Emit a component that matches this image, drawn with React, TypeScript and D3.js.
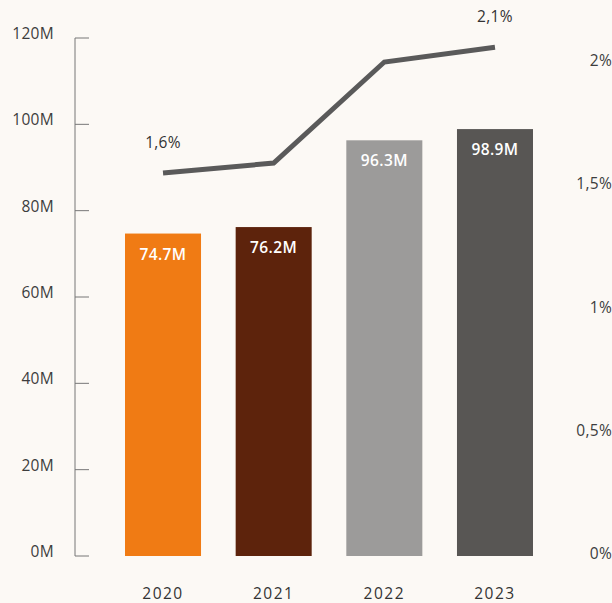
import React from "react";
import * as d3 from "d3";

const years = ["2020", "2021", "2022", "2023"];
const revenue = [74.7, 76.2, 96.3, 98.9];
const revenueLabels = ["74.7M", "76.2M", "96.3M", "98.9M"];
const barColors = ["#f07b14", "#5d230c", "#9c9b9a", "#585654"];
const share = [1.55, 1.59, 2.0, 2.06];
const shareLabels = ["1,6%", "", "", "2,1%"];
const leftTicks = [0, 20, 40, 60, 80, 100, 120];
const rightTicks = [0, 0.5, 1, 1.5, 2];
const rightTickLabels = ["0%", "0,5%", "1%", "1,5%", "2%"];

const W = 612;
const H = 603;
const FONT = "'Open Sans', 'Noto Sans', sans-serif";

export default function App() {
  const x = d3.scaleBand().domain(years).range([125, 533]).paddingInner(0.313).paddingOuter(0);
  const y = d3.scaleLinear().domain([0, 120]).range([556, 38]);
  const yR = d3.scaleLinear().domain([0, 2]).range([555, 62]);
  const line = d3
    .line<number>()
    .x((_, i) => (x(years[i]) as number) + x.bandwidth() / 2)
    .y((d) => yR(d));

  return (
    <svg
      width={W}
      height={H}
      style={{ position: "absolute", left: 0, top: 0, background: "#fcf9f5" }}
      fontFamily={FONT}
    >
      <rect width={W} height={H} fill="#fcf9f5" />
      {/* left axis */}
      <line x1={75} x2={75} y1={y(120)} y2={y(0)} stroke="#777" strokeWidth={1} />
      {leftTicks.map((t) => (
        <g key={t}>
          <line x1={75} x2={89} y1={y(t)} y2={y(t)} stroke="#777" strokeWidth={1} />
          <text x={54} y={y(t) - 3} textAnchor="end" dominantBaseline="middle" fontSize={15.5} letterSpacing={0.3} fill="#3d3d3d">
            {t}M
          </text>
        </g>
      ))}
      {/* right axis labels */}
      {rightTicks.map((t, i) => (
        <text key={t} x={612} y={yR(t)} textAnchor="end" dominantBaseline="middle" fontSize={15.5} letterSpacing={0.3} fill="#3d3d3d">
          {rightTickLabels[i]}
        </text>
      ))}
      {/* bars */}
      {years.map((yr, i) => (
        <g key={yr}>
          <rect
            x={x(yr)}
            y={y(revenue[i])}
            width={x.bandwidth()}
            height={y(0) - y(revenue[i])}
            fill={barColors[i]}
          />
          <text
            x={(x(yr) as number) + x.bandwidth() / 2}
            y={y(revenue[i]) + 22}
            textAnchor="middle"
            dominantBaseline="middle"
            fontSize={15.5}
            fontWeight={600}
            letterSpacing={0.4}
            fill="#fff"
          >
            {revenueLabels[i]}
          </text>
          <text
            x={(x(yr) as number) + x.bandwidth() / 2}
            y={595}
            textAnchor="middle"
            dominantBaseline="middle"
            fontSize={15.5}
            letterSpacing={1.5}
            fill="#333"
          >
            {yr}
          </text>
        </g>
      ))}
      {/* line */}
      <path d={line(share) as string} fill="none" stroke="#5a5a5a" strokeWidth={5} />
      {share.map((s, i) =>
        shareLabels[i] ? (
          <text
            key={i}
            x={(x(years[i]) as number) + x.bandwidth() / 2}
            y={yR(s) - 29}
            textAnchor="middle"
            dominantBaseline="middle"
            fontSize={15.5}
            letterSpacing={0.3}
            fill="#333"
          >
            {shareLabels[i]}
          </text>
        ) : null
      )}
    </svg>
  );
}
